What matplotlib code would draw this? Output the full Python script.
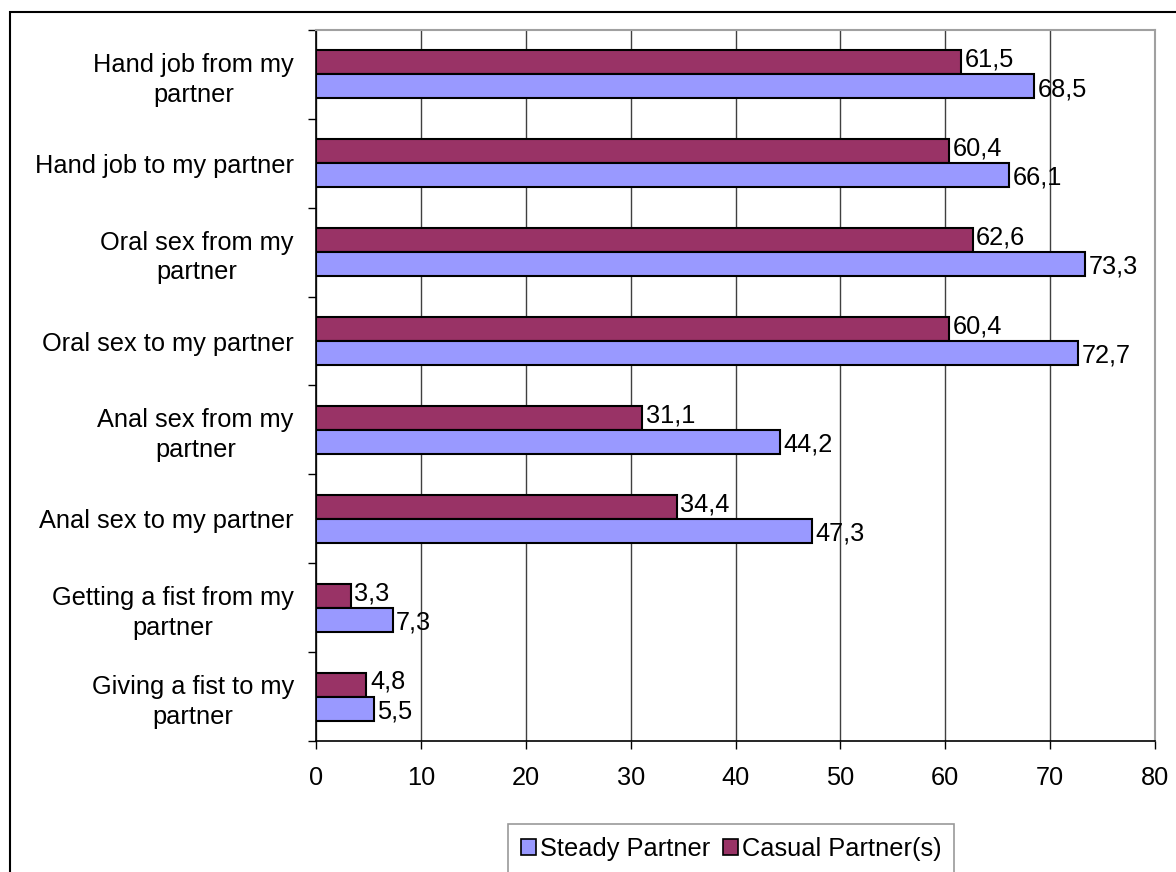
import matplotlib
matplotlib.use("Agg")
import matplotlib.pyplot as plt
from matplotlib.patches import Rectangle, Patch
import numpy as np

categories = ["Hand job from my\npartner", "Hand job to my partner", "Oral sex from my\npartner",
              "Oral sex to my partner", "Anal sex from my\npartner", "Anal sex to my partner",
              "Getting a fist from my\npartner", "Giving a fist to my\npartner"]
steady = [68.5, 66.1, 73.3, 72.7, 44.2, 47.3, 7.3, 5.5]
casual = [61.5, 60.4, 62.6, 60.4, 31.1, 34.4, 3.3, 4.8]
steady_labels = ["68,5", "66,1", "73,3", "72,7", "44,2", "47,3", "7,3", "5,5"]
casual_labels = ["61,5", "60,4", "62,6", "60,4", "31,1", "34,4", "3,3", "4,8"]
xticks = [0, 10, 20, 30, 40, 50, 60, 70, 80]

plt.rcParams['font.family'] = ['Liberation Sans', 'DejaVu Sans']
FS = 18.3

W, H = 1176, 872
fig = plt.figure(figsize=(W / 100, H / 100), dpi=100)
fig.patch.set_facecolor('white')

# outer border
fig.patches.append(Rectangle((10 / W, -0.2), 2.0, 1.2 - 12 / H, transform=fig.transFigure,
                             fill=False, edgecolor='black', linewidth=1.5, zorder=0))

ax = fig.add_axes([316 / W, 1 - 741 / H, (1155 - 316) / W, (741 - 30) / H])
n = len(categories)
centers = np.arange(n) + 0.5
bh = 0.27
c_steady = '#9999FF'
c_casual = '#993366'

ax.barh(centers - bh / 2, casual, height=bh, color=c_casual, edgecolor='black', linewidth=1.5, zorder=3)
ax.barh(centers + bh / 2, steady, height=bh, color=c_steady, edgecolor='black', linewidth=1.5, zorder=3)

for y, v, s in zip(centers - bh / 2, casual, casual_labels):
    ax.text(v + 0.35, y - 0.03, s, va='center', ha='left', fontsize=FS, zorder=4)
for y, v, s in zip(centers + bh / 2, steady, steady_labels):
    ax.text(v + 0.35, y + 0.03, s, va='center', ha='left', fontsize=FS, zorder=4)

ax.set_xlim(0, 80)
ax.set_ylim(n, 0)
ax.set_xticks(xticks)
ax.set_xticklabels([str(t) for t in xticks], fontsize=FS)
ax.set_yticks(np.arange(n + 1))
ax.set_yticklabels([])
ax.set_yticks(centers, minor=True)
ax.set_yticklabels(categories, minor=True, fontsize=FS, ha='right', multialignment='center',
                   linespacing=1.3)
ax.tick_params(axis='y', which='minor', length=0, pad=16)
ax.tick_params(axis='y', which='major', length=6, width=1, direction='out')
ax.tick_params(axis='x', which='major', length=6, width=1, direction='out', pad=12)

ax.grid(axis='x', color='#404040', linewidth=1, zorder=0)
ax.set_axisbelow(True)
for s in ['left', 'bottom']:
    ax.spines[s].set_color('black')
    ax.spines[s].set_linewidth(1.2)
for s in ['top', 'right']:
    ax.spines[s].set_color('#A0A0A0')
    ax.spines[s].set_linewidth(1.5)

handles = [Patch(facecolor=c_steady, edgecolor='black', linewidth=1.2, label='Steady Partner'),
           Patch(facecolor=c_casual, edgecolor='black', linewidth=1.2, label='Casual Partner(s)')]
leg = fig.legend(handles=handles, loc='upper left', bbox_to_anchor=(508 / W, 1 - 824 / H),
                 ncol=2, fontsize=FS, frameon=True, fancybox=False, shadow=False,
                 handlelength=0.6, handleheight=0.6, handletextpad=0.15, columnspacing=0.5,
                 borderpad=0.5, borderaxespad=0)
leg.get_frame().set_edgecolor('#808080')
leg.get_frame().set_linewidth(1.2)

fig.savefig('out.png', dpi=100, facecolor='white')
